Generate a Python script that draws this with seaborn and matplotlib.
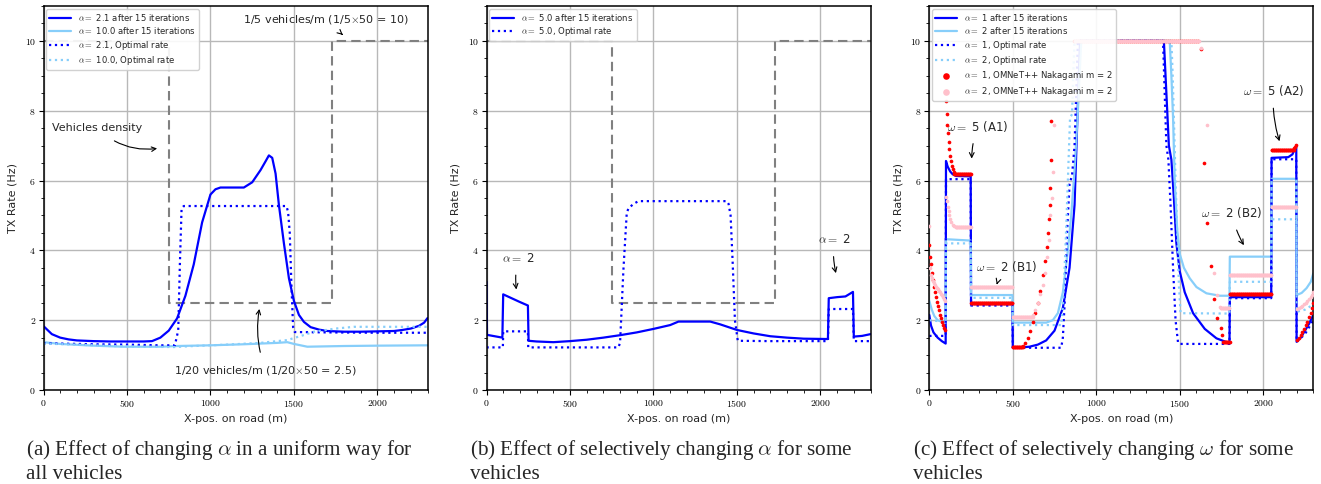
import numpy as np
import pandas as pd
import matplotlib
matplotlib.use("Agg")
import matplotlib.pyplot as plt
from matplotlib.ticker import FuncFormatter, MultipleLocator
import seaborn as sns

# ---------------- data ----------------
dens_x = [0, 750, 750, 1730, 1730, 2300]
dens_y = [10, 10, 2.5, 2.5, 10, 10]

# panel (a)
a_it21_x = [0, 50, 100, 150, 200, 300, 400, 500, 600, 650, 700, 750, 800, 850, 900, 950, 1000, 1030, 1060,
            1100, 1200, 1250, 1300, 1330, 1350, 1370, 1390, 1410, 1440, 1470, 1500, 1530, 1560, 1600, 1650,
            1700, 1800, 1900, 2000, 2100, 2150, 2200, 2250, 2280, 2300]
a_it21_y = [1.83, 1.6, 1.5, 1.45, 1.42, 1.4, 1.39, 1.39, 1.39, 1.4, 1.5, 1.7, 2.05, 2.7, 3.6, 4.8, 5.6, 5.75, 5.8,
            5.8, 5.8, 5.95, 6.3, 6.55, 6.72, 6.65, 6.2, 5.3, 4.2, 3.2, 2.55, 2.15, 1.95, 1.8, 1.73,
            1.69, 1.67, 1.67, 1.68, 1.69, 1.72, 1.76, 1.84, 1.93, 2.06]
a_it10_x = [0, 100, 300, 480, 700, 800, 1000, 1200, 1400, 1460, 1500, 1580, 1800, 2000, 2300]
a_it10_y = [1.37, 1.32, 1.27, 1.24, 1.24, 1.26, 1.28, 1.31, 1.35, 1.37, 1.32, 1.24, 1.26, 1.27, 1.28]
a_opt21_x = [0, 100, 300, 500, 700, 787, 807, 817, 827, 840, 1000, 1200, 1455, 1465, 1475, 1485, 1495, 1505,
             1700, 2000, 2300]
a_opt21_y = [1.34, 1.33, 1.31, 1.3, 1.28, 1.28, 1.71, 3.63, 5.2, 5.27, 5.27, 5.27, 5.27, 5.1, 4.5, 3.0, 1.8, 1.66,
             1.65, 1.64, 1.64]
a_opt10_x = [0, 200, 400, 600, 780, 900, 1100, 1300, 1460, 1550, 1620, 1750, 1860, 2000, 2300]
a_opt10_y = [1.33, 1.3, 1.26, 1.24, 1.23, 1.26, 1.3, 1.35, 1.43, 1.56, 1.67, 1.76, 1.81, 1.81, 1.81]

# panel (b)
b_it5_x = [0, 3, 95, 100, 150, 200, 248, 252, 300, 400, 500, 600, 700, 800, 900, 1000, 1100, 1150, 1340, 1400,
           1500, 1600, 1700, 1800, 1900, 2045, 2050, 2100, 2150, 2195, 2200, 2250, 2300]
b_it5_y = [3.1, 1.58, 1.5, 2.74, 2.63, 2.52, 2.42, 1.41, 1.39, 1.37, 1.4, 1.44, 1.5, 1.57, 1.65, 1.75, 1.86,
           1.96, 1.96, 1.88, 1.72, 1.62, 1.54, 1.5, 1.47, 1.46, 2.63, 2.66, 2.68, 2.81, 1.53, 1.55, 1.6]
b_opt5_x = [0, 98, 100, 248, 250, 500, 790, 800, 820, 840, 850, 880, 910, 1000, 1440, 1450, 1462, 1474, 1488,
            1505, 1700, 2045, 2050, 2195, 2200, 2300]
b_opt5_y = [1.22, 1.22, 1.68, 1.68, 1.22, 1.22, 1.22, 1.35, 3.44, 5.07, 5.2, 5.33, 5.41, 5.41, 5.41, 5.33, 5.0,
            3.7, 2.0, 1.41, 1.4, 1.4, 2.32, 2.32, 1.4, 1.4]

# panel (c)
c_it1_x = [0, 10, 25, 50, 75, 98, 100, 110, 125, 140, 160, 248, 250, 498, 500, 550, 600, 650, 700, 750, 800,
           840, 870, 885, 903, 1405, 1420, 1435, 1450, 1465, 1480, 1500, 1530, 1580, 1650, 1720, 1798, 1800,
           2048, 2050, 2150, 2175, 2198, 2200, 2225, 2250, 2275, 2300]
c_it1_y = [2.15, 1.85, 1.65, 1.5, 1.4, 1.33, 6.56, 6.4, 6.26, 6.18, 6.13, 6.12, 2.46, 2.46, 1.22, 1.22, 1.24,
           1.3, 1.42, 1.7, 2.35, 3.5, 5.3, 7.5, 10, 10, 8.5, 7.0, 6.6, 5.5, 4.2, 3.4, 2.8, 2.2, 1.75, 1.48,
           1.34, 2.66, 2.66, 6.65, 6.67, 6.75, 7.0, 1.38, 1.5, 1.7, 1.9, 2.15]
c_it2_x = [0, 15, 30, 50, 75, 98, 100, 248, 250, 498, 500, 700, 740, 770, 800, 830, 850, 870, 890, 910, 1440,
           1450, 1460, 1470, 1485, 1500, 1525, 1560, 1600, 1660, 1740, 1798, 1800, 2048, 2050, 2198, 2200, 2230,
           2260, 2285, 2300]
c_it2_y = [2.55, 2.3, 2.12, 2.0, 1.95, 1.93, 4.32, 4.28, 2.72, 2.72, 1.93, 1.93, 2.0, 2.2, 2.8, 4.0, 5.0, 6.3,
           8.0, 10, 10, 9.0, 7.8, 6.0, 4.6, 3.9, 3.5, 3.2, 2.95, 2.77, 2.7, 2.7, 3.82, 3.82, 6.05, 6.05, 2.72,
           2.78, 2.92, 3.1, 3.34]
c_opt1_x = [0, 98, 100, 248, 250, 498, 500, 790, 800, 812, 825, 840, 855, 870, 880, 890, 1400, 1410, 1420,
            1432, 1445, 1460, 1475, 1490, 1500, 1798, 1800, 2048, 2050, 2198, 2200, 2250, 2300]
c_opt1_y = [1.55, 1.55, 6.04, 6.04, 2.42, 2.42, 1.21, 1.21, 1.5, 2.6, 4.5, 5.9, 6.15, 7.0, 8.5, 10, 10, 8.5,
            7.0, 6.6, 5.3, 3.5, 2.0, 1.35, 1.32, 1.32, 2.63, 2.63, 6.61, 6.61, 1.38, 1.6, 2.0]
c_opt2_x = [0, 98, 100, 248, 250, 498, 500, 790, 800, 815, 830, 843, 855, 862, 870, 1450, 1458, 1466, 1475,
            1485, 1495, 1505, 1798, 1800, 2048, 2050, 2198, 2200, 2250, 2300]
c_opt2_y = [2.0, 1.95, 4.2, 4.2, 2.64, 2.64, 1.86, 1.86, 2.4, 4.0, 6.0, 7.8, 7.9, 9.0, 10, 10, 9.0, 7.6, 6.0,
            4.5, 3.0, 2.2, 2.19, 3.1, 3.1, 4.89, 4.89, 2.24, 2.3, 2.45]

# OMNeT++ simulation points (curved parts) and plateaus (x start, x end, level)
c_sim1_x = [0, 6, 12, 18, 24, 30, 36, 42, 48, 54, 60, 66, 72, 78, 84, 90, 96,
            100, 104, 108, 112, 116, 120, 125, 130, 135, 140, 145,
            560, 575, 590, 605, 620, 635, 650, 665, 680, 692, 702, 710, 716, 720, 724, 727, 730,
            1625, 1645, 1665, 1685, 1705, 1725, 1745, 1755,
            2185, 2192, 2198,
            2205, 2215, 2225, 2235, 2245, 2255, 2265, 2275, 2285, 2295, 2300]
c_sim1_y = [4.15, 3.82, 3.6, 3.35, 3.15, 2.96, 2.8, 2.65, 2.52, 2.4, 2.28, 2.16, 2.06, 1.96, 1.87, 1.78, 1.72,
            8.28, 7.9, 7.6, 7.35, 7.1, 6.9, 6.7, 6.55, 6.42, 6.32, 6.25,
            1.26, 1.35, 1.5, 1.7, 1.95, 2.2, 2.5, 2.85, 3.3, 3.7, 4.1, 4.5, 4.9, 5.3, 5.8, 6.6, 7.7,
            9.77, 6.5, 4.79, 3.55, 2.6, 2.05, 1.77, 1.58,
            6.92, 6.97, 7.02,
            1.43, 1.5, 1.58, 1.66, 1.75, 1.85, 1.96, 2.08, 2.2, 2.35, 2.48]
c_sim1_plat_x0 = [150, 250, 500, 865, 1760, 1800, 2050]
c_sim1_plat_x1 = [250, 500, 560, 1620, 1800, 2050, 2182]
c_sim1_plat_y = [6.2, 2.48, 1.23, 10, 1.37, 2.75, 6.88]

c_sim2_x = [0, 6, 12, 18, 24, 30, 36, 42, 48, 54, 60, 66, 72, 78, 84, 90, 96,
            100, 105, 110, 115, 120, 125, 130, 140, 150, 160,
            620, 635, 650, 665, 680, 694, 704, 714, 724, 734, 740, 744,
            1630, 1663, 1703, 1723, 1743,
            2205, 2215, 2225, 2235, 2245, 2255, 2265, 2275, 2285, 2295, 2300]
c_sim2_y = [4.7, 3.5, 3.3, 3.2, 3.12, 3.06, 3.0, 2.96, 2.92, 2.88, 2.84, 2.8, 2.76, 2.72, 2.67, 2.62, 2.56,
            5.54, 5.4, 5.25, 5.12, 5.0, 4.9, 4.82, 4.74, 4.7, 4.68,
            2.15, 2.3, 2.5, 2.75, 3.0, 3.35, 3.8, 4.3, 5.0, 5.5, 6.25, 7.6,
            9.8, 7.6, 3.34, 2.72, 2.39,
            2.33, 2.35, 2.38, 2.42, 2.46, 2.5, 2.55, 2.6, 2.66, 2.73, 2.81]
c_sim2_plat_x0 = [160, 250, 500, 871, 1745, 1800, 2050]
c_sim2_plat_x1 = [250, 500, 620, 1625, 1800, 2050, 2200]
c_sim2_plat_y = [4.68, 2.96, 2.1, 10, 2.34, 3.3, 5.23]

captions = [r"(a) Effect of changing $\alpha$ in a uniform way for" + "\nall vehicles",
            r"(b) Effect of selectively changing $\alpha$ for some" + "\nvehicles",
            r"(c) Effect of selectively changing $\omega$ for some" + "\nvehicles"]

# ---------------- style ----------------
sns.set_style("ticks")
plt.rcParams["font.family"] = ["DejaVu Sans"]
plt.rcParams["mathtext.fontset"] = "cm"
plt.rcParams["axes.edgecolor"] = "black"
plt.rcParams["axes.linewidth"] = 1.1
plt.rcParams["xtick.color"] = "black"
plt.rcParams["ytick.color"] = "black"

BLUE = "#0000ff"
LBLUE = "#87cefa"
GRAY = "#808080"

fig = plt.figure(figsize=(13.21, 4.84), dpi=100)
W = 384 / 1321
H = 384 / 484
B = 94 / 484
lefts = [43.5 / 1321, 486.5 / 1321, 929.3 / 1321]
axes = [fig.add_axes([l, B, W, H]) for l in lefts]

LEG = dict(loc="upper left", fontsize=6.1, handlelength=2.6, borderaxespad=0.35, labelspacing=0.28,
           framealpha=0.9, edgecolor="#cccccc", borderpad=0.35)


def line(ax, x, y, color, ls="-", lw=1.6, label=None):
    df = pd.DataFrame({"x": x, "y": y})
    sns.lineplot(data=df, x="x", y="y", ax=ax, color=color, linestyle=ls, linewidth=lw,
                 estimator=None, sort=False, label=label, legend=False)


def dots(ax, x, y, color, label=None, z=3):
    df = pd.DataFrame({"x": x, "y": y})
    sns.scatterplot(data=df, x="x", y="y", ax=ax, color=color, s=7, linewidth=0, label=label,
                    legend=False, zorder=z)


def plateau_points(x0s, x1s, levels, step=4.0, top_step=12.0):
    xs, ys = [], []
    for a, b, v in zip(x0s, x1s, levels):
        st = top_step if v >= 10 else step
        px = np.arange(a, b + 1e-9, st)
        xs.extend(px)
        ys.extend([v] * len(px))
    return xs, ys


def fmt(v, p):
    return r"$%d$" % v


for ax in axes:
    ax.set_xlim(0, 2300)
    ax.set_ylim(0, 11)
    ax.xaxis.set_major_locator(MultipleLocator(500))
    ax.xaxis.set_minor_locator(MultipleLocator(100))
    ax.yaxis.set_major_locator(MultipleLocator(2))
    ax.yaxis.set_minor_locator(MultipleLocator(0.5))
    ax.xaxis.set_major_formatter(FuncFormatter(fmt))
    ax.yaxis.set_major_formatter(FuncFormatter(fmt))
    ax.tick_params(axis="both", which="major", labelsize=7, length=3.5, width=0.8, pad=2)
    ax.tick_params(axis="both", which="minor", length=2, width=0.6)
    ax.grid(True, which="major", color="#b8b8b8", linewidth=1.0)
    ax.set_axisbelow(True)
    ax.set_xlabel("X-pos. on road (m)", fontsize=8, labelpad=4)
    ax.set_ylabel("TX Rate (Hz)", fontsize=8, labelpad=5)

ap = dict(arrowstyle="->", color="black", lw=0.8)

# ---------- panel a ----------
ax = axes[0]
line(ax, dens_x, dens_y, GRAY, ls=(0, (4.5, 2.5)), lw=1.5)
line(ax, a_it21_x, a_it21_y, BLUE, lw=1.6, label=r"$\alpha =$ 2.1 after 15 iterations")
line(ax, a_it10_x, a_it10_y, LBLUE, lw=1.6, label=r"$\alpha =$ 10.0 after 15 iterations")
line(ax, a_opt21_x, a_opt21_y, BLUE, ls=":", lw=1.6, label=r"$\alpha =$ 2.1, Optimal rate")
line(ax, a_opt10_x, a_opt10_y, LBLUE, ls=":", lw=1.6, label=r"$\alpha =$ 10.0, Optimal rate")
ax.legend(**LEG)
ax.annotate("Vehicles density", xy=(697, 6.93), xytext=(323, 7.5), fontsize=8, ha="center", va="center",
            arrowprops=dict(ap, connectionstyle="arc3,rad=0.25", shrinkA=6))
ax.annotate(r"1/5 vehicles/m (1/5$\times$50 = 10)", xy=(1805, 10.12), xytext=(1690, 10.6), fontsize=8,
            ha="center", va="center", arrowprops=dict(ap, shrinkA=5))
ax.annotate(r"1/20 vehicles/m (1/20$\times$50 = 2.5)", xy=(1296, 2.4), xytext=(1332, 0.57), fontsize=8,
            ha="center", va="center", arrowprops=dict(ap, connectionstyle="arc3,rad=-0.15", shrinkA=6))

# ---------- panel b ----------
ax = axes[1]
line(ax, dens_x, dens_y, GRAY, ls=(0, (4.5, 2.5)), lw=1.5)
line(ax, b_it5_x, b_it5_y, BLUE, lw=1.6, label=r"$\alpha =$ 5.0 after 15 iterations")
line(ax, b_opt5_x, b_opt5_y, BLUE, ls=":", lw=1.6, label=r"$\alpha =$ 5.0, Optimal rate")
ax.legend(**LEG)
ax.annotate(r"$\alpha =$ 2", xy=(181, 2.8), xytext=(190, 3.77), fontsize=8.5, ha="center", va="center",
            arrowprops=dict(ap, connectionstyle="arc3,rad=0.1", shrinkA=5))
ax.annotate(r"$\alpha =$ 2", xy=(2097, 3.27), xytext=(2083, 4.3), fontsize=8.5, ha="center", va="center",
            arrowprops=dict(ap, connectionstyle="arc3,rad=0.1", shrinkA=5))

# ---------- panel c ----------
ax = axes[2]
line(ax, c_it1_x, c_it1_y, BLUE, lw=1.6, label=r"$\alpha =$ 1 after 15 iterations")
line(ax, c_it2_x, c_it2_y, LBLUE, lw=1.6, label=r"$\alpha =$ 2 after 15 iterations")
line(ax, c_opt1_x, c_opt1_y, BLUE, ls=":", lw=1.6, label=r"$\alpha =$ 1, Optimal rate")
line(ax, c_opt2_x, c_opt2_y, LBLUE, ls=":", lw=1.6, label=r"$\alpha =$ 2, Optimal rate")
p1x, p1y = plateau_points(c_sim1_plat_x0, c_sim1_plat_x1, c_sim1_plat_y)
p2x, p2y = plateau_points(c_sim2_plat_x0, c_sim2_plat_x1, c_sim2_plat_y)
dots(ax, list(c_sim1_x) + list(p1x), list(c_sim1_y) + list(p1y), "red",
     label=r"$\alpha =$ 1, OMNeT++ Nakagami m = 2", z=4)
dots(ax, list(c_sim2_x) + list(p2x), list(c_sim2_y) + list(p2y), "pink",
     label=r"$\alpha =$ 2, OMNeT++ Nakagami m = 2", z=4)
leg = ax.legend(markerscale=1.8, **LEG)
leg.set_zorder(10)
ax.annotate(r"$\omega =$ 5 (A1)", xy=(254, 6.55), xytext=(292, 7.56), fontsize=8.5, ha="center", va="center",
            arrowprops=dict(ap, connectionstyle="arc3,rad=0.1", shrinkA=5))
ax.annotate(r"$\omega =$ 2 (B1)", xy=(404, 3.02), xytext=(464, 3.55), fontsize=8.5, ha="center", va="center",
            arrowprops=dict(ap, connectionstyle="arc3,rad=0.1", shrinkA=5))
ax.annotate(r"$\omega =$ 5 (A2)", xy=(2103, 7.05), xytext=(2061, 8.58), fontsize=8.5, ha="center", va="center",
            arrowprops=dict(ap, connectionstyle="arc3,rad=0.1", shrinkA=5))
ax.annotate(r"$\omega =$ 2 (B2)", xy=(1893, 4.08), xytext=(1813, 5.08), fontsize=8.5, ha="center", va="center",
            arrowprops=dict(ap, connectionstyle="arc3,rad=0.1", shrinkA=5))

# captions
cap_x = [26 / 1321, 470 / 1321, 913 / 1321]
for cx, txt in zip(cap_x, captions):
    fig.text(cx, 1 - 438 / 484, txt, ha="left", va="top", fontsize=15.2, family="Liberation Serif",
             linespacing=1.2)

fig.savefig("out.png", dpi=100)
